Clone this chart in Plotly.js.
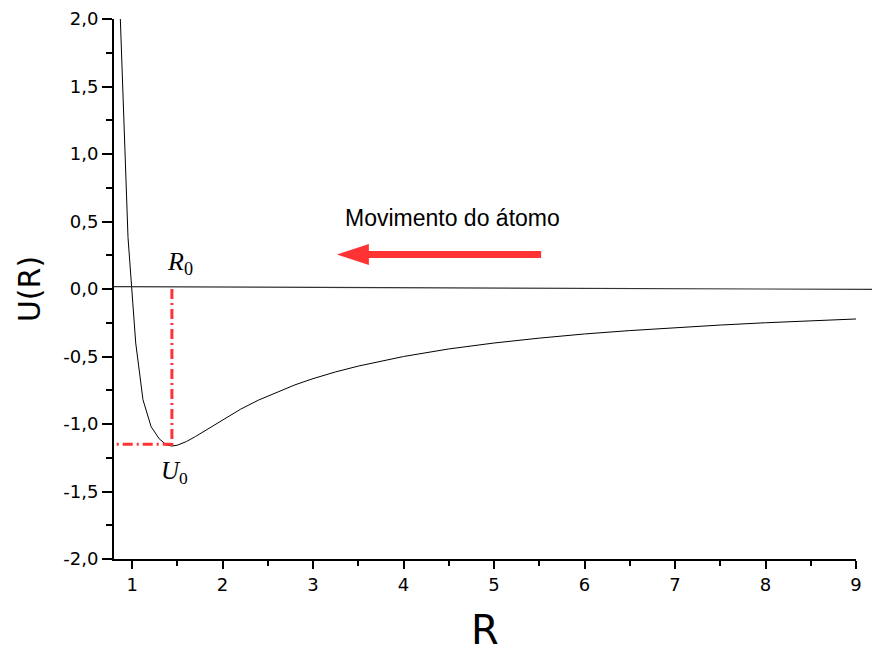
<!DOCTYPE html>
<html>
<head>
<meta charset="utf-8">
<script src="https://cdn.plot.ly/plotly-3.0.1.min.js"></script>
<style>html,body{margin:0;padding:0;background:#fff;}#chart{width:872px;height:653px;}</style>
</head>
<body>
<div id="chart"></div>
<script>
// Potential curve U(R)
const R = [0.87, 0.955, 1.04, 1.12, 1.21, 1.30, 1.38, 1.44, 1.5, 1.6, 1.7, 1.8, 1.9, 2.0, 2.2, 2.4, 2.6, 2.8, 3.0, 3.25, 3.5, 3.75, 4.0, 4.5, 5.0, 5.5, 6.0, 6.5, 7.0, 7.5, 8.0, 8.5, 9.0];
const U = [2.0, 0.38, -0.40, -0.82, -1.02, -1.11, -1.155, -1.163, -1.157, -1.13, -1.093, -1.052, -1.01, -0.97, -0.89, -0.822, -0.763, -0.71, -0.664, -0.614, -0.571, -0.533, -0.50, -0.444, -0.40, -0.364, -0.333, -0.308, -0.286, -0.267, -0.25, -0.235, -0.222];

// Equilibrium point
const R0 = 1.44;
const U0 = -1.163;
const U0_line = -1.15;
const hLineStart = 0.83;

// Ticks
const xTickVals = [1, 2, 3, 4, 5, 6, 7, 8, 9];
const xTickText = ['1', '2', '3', '4', '5', '6', '7', '8', '9'];
const yTickVals = [-2, -1.5, -1, -0.5, 0, 0.5, 1, 1.5, 2];
const yTickText = ['-2,0', '-1,5', '-1,0', '-0,5', '0,0', '0,5', '1,0', '1,5', '2,0'];

const red = '#ff3333';

const traces = [
  {x: R, y: U, type: 'scatter', mode: 'lines', line: {color: '#000', width: 1.0}, hoverinfo: 'skip', showlegend: false},
  {x: [R0, R0], y: [0, U0], type: 'scatter', mode: 'lines', line: {color: red, width: 3, dash: '10px,4px,2px,4px'}, showlegend: false},
  {x: [hLineStart, R0], y: [U0_line, U0_line], type: 'scatter', mode: 'lines', line: {color: red, width: 3, dash: '2px,4px,10px,4px'}, showlegend: false}
];

const layout = {
  width: 872, height: 653,
  margin: {l: 114, r: 16, t: 19, b: 94},
  paper_bgcolor: '#fff', plot_bgcolor: '#fff',
  showlegend: false,
  font: {family: 'DejaVu Sans', color: '#000', size: 18},
  xaxis: {
    range: [0.8, 9], automargin: false,
    showgrid: false, zeroline: false,
    showline: true, linecolor: '#000', linewidth: 2,
    ticks: 'outside', ticklen: 8, tickwidth: 2, tickcolor: '#000',
    tickmode: 'array', tickvals: xTickVals, ticktext: xTickText,
    tickfont: {family: 'DejaVu Sans', size: 18, color: '#000'},
    minor: {tickmode: 'linear', tick0: 0, dtick: 0.5, ticks: 'outside', ticklen: 5, tickwidth: 2, tickcolor: '#000', showgrid: false},
    title: {text: 'R', font: {family: 'DejaVu Sans', size: 40, color: '#000'}, standoff: 25}
  },
  yaxis: {
    range: [-2, 2], automargin: false,
    showgrid: false, zeroline: false,
    showline: true, linecolor: '#000', linewidth: 2,
    ticks: 'outside', ticklen: 10, tickwidth: 2, tickcolor: '#000',
    tickmode: 'array', tickvals: yTickVals, ticktext: yTickText,
    tickfont: {family: 'DejaVu Sans', size: 18, color: '#000'},
    minor: {tickmode: 'linear', tick0: 0, dtick: 0.25, ticks: 'outside', ticklen: 6, tickwidth: 2, tickcolor: '#000', showgrid: false},
    title: {text: 'U(R)', font: {family: 'DejaVu Sans', size: 30, color: '#000'}, standoff: 14}
  },
  shapes: [
    {type: 'line', xref: 'paper', yref: 'y', x0: 0, x1: 1.0216, y0: 0.017, y1: -0.003, line: {color: '#333', width: 1.2}},
    {type: 'line', xref: 'x', yref: 'y', x0: 5.52, x1: 3.6, y0: 0.256, y1: 0.256, line: {color: red, width: 7}},
    {type: 'path', xref: 'x', yref: 'y', path: 'M 3.263 0.256 L 3.617 0.334 L 3.617 0.178 Z', fillcolor: red, line: {color: red, width: 0}}
  ],
  annotations: [
    {x: 4.543, y: 0.526, xref: 'x', yref: 'y', text: 'Movimento do átomo', showarrow: false, xanchor: 'center', yanchor: 'middle', font: {family: 'Liberation Sans', size: 23, color: '#000'}},
    {x: 1.53, y: 0.19, xref: 'x', yref: 'y', text: '<i>R</i><sub>0</sub>', showarrow: false, xanchor: 'center', yanchor: 'middle', font: {family: 'Liberation Serif', size: 26, color: '#000'}},
    {x: 1.47, y: -1.36, xref: 'x', yref: 'y', text: '<i>U</i><sub>0</sub>', showarrow: false, xanchor: 'center', yanchor: 'middle', font: {family: 'Liberation Serif', size: 25, color: '#000'}}
  ]
};

Plotly.newPlot('chart', traces, layout, {displayModeBar: false, staticPlot: true});
</script>
</body>
</html>
